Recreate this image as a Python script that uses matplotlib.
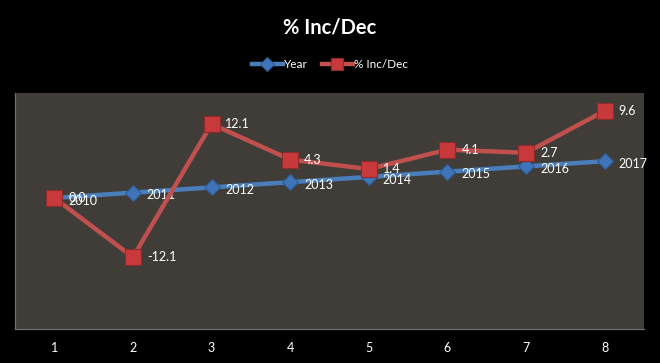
import matplotlib
matplotlib.use("Agg")
import matplotlib.pyplot as plt

categories = [1, 2, 3, 4, 5, 6, 7, 8]
year_values = [2010, 2011, 2012, 2013, 2014, 2015, 2016, 2017]
# positions of the % Inc/Dec markers (secondary axis)
pct_plot = [0.0, -11.3, 14.1, 7.3, 5.5, 9.2, 8.6, 16.6]
pct_labels = ["0.0", "-12.1", "12.1", "4.3", "1.4", "4.1", "2.7", "9.6"]
year_labels = [str(y) for y in year_values]

FONT = ["Lato", "DejaVu Sans"]
plt.rcParams["font.family"] = FONT

fig = plt.figure(figsize=(6.6, 3.63), dpi=100, facecolor="black")
ax = fig.add_axes([15/660, 1-329/363, (644-15)/660, (329-93)/363])
ax.set_facecolor("#403d39")
ax2 = ax.twinx()

blue = "#4a7ebb"
red = "#c0504d"

lb, = ax.plot(categories, year_values, color=blue, lw=3.2, marker="D", ms=8,
              mfc="#3f74b8", mec="#2c5d9a", mew=0.8, zorder=3, label="Year")
lr, = ax2.plot(categories, pct_plot, color=red, lw=3.2, marker="s", ms=11,
               mfc="#c8393b", mec="#8e2a2a", mew=0.8, zorder=3, label="% Inc/Dec")

ax.set_ylim(1985, 2030)
ax2.set_ylim(-25, 20)
ax.set_xlim(0.5, 8.5)

for x, y, t in zip(categories, year_values, year_labels):
    ax.annotate(t, (x, y), xytext=(10, -2), textcoords="offset points",
                color="white", fontsize=9, va="center", ha="left", zorder=5)
for x, y, t in zip(categories, pct_plot, pct_labels):
    ax2.annotate(t, (x, y), xytext=(10, 0), textcoords="offset points",
                 color="white", fontsize=9, va="center", ha="left", zorder=5)

ax.set_yticks([])
ax2.set_yticks([])
ax.set_xticks(categories)
ax.set_xticklabels([str(c) for c in categories], color="white", fontsize=9)
ax.tick_params(axis="x", length=0, pad=9)
for a in (ax, ax2):
    for s in a.spines.values():
        s.set_color("#6f6f6f")
        s.set_linewidth(0.8)
    a.spines["top"].set_visible(False)
    a.spines["right"].set_visible(False)

fig.text(0.5, 1-28/363, "% Inc/Dec", color="white", fontsize=14.5, fontweight="bold",
         ha="center", va="center")
leg = fig.legend(handles=[lb, lr], loc="center", bbox_to_anchor=(0.5, 1-65/363),
                 ncol=2, frameon=False, fontsize=8.5, labelcolor="white",
                 handlelength=2.6, columnspacing=1.2, handletextpad=0.1,
                 markerscale=0.85)

fig.savefig("out.png", dpi=100, facecolor="black")
